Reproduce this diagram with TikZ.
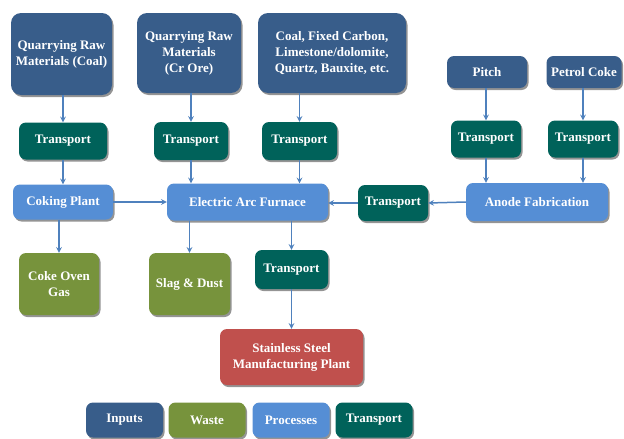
\documentclass[tikz,border=0pt]{standalone}
\usepackage{fontspec}
\setmainfont{Liberation Serif}
\usetikzlibrary{arrows, positioning, calc, shadows}
\definecolor{inputblue}{HTML}{385D8A}
\definecolor{wasteolive}{HTML}{77933C}
\definecolor{procblue}{HTML}{558ED5}
\definecolor{transteal}{HTML}{00625A}
\definecolor{plantred}{HTML}{C0504D}
\definecolor{arrowblue}{HTML}{4F81BD}
\tikzstyle{box} = [rectangle, rounded corners=7pt, align=center, text=white, font=\bfseries\fontsize{13}{16}\selectfont, inner sep=1pt, drop shadow={shadow xshift=1.5pt, shadow yshift=-2pt, fill=black!70, opacity=0.6}]
\tikzstyle{input} = [box, fill=inputblue, rounded corners=10pt]
\tikzstyle{waste} = [box, fill=wasteolive]
\tikzstyle{process} = [box, fill=procblue]
\tikzstyle{transport} = [box, fill=transteal]
\tikzstyle{plant} = [box, fill=plantred]
\tikzstyle{legend} = [box, minimum width=77pt, minimum height=35pt]
\tikzstyle{arrow} = [line width=1.5pt, draw=arrowblue, ->, >=stealth]

\begin{document}
\begin{tikzpicture}[x=1pt, y=-1pt]
    \useasboundingbox (0,0) rectangle (624,439);

    % Inputs
    \node (coal) [input, minimum width=101pt, minimum height=82pt] at (61.5,54) {Quarrying Raw\\Materials (Coal)};
    \node (crore) [input, minimum width=104pt, minimum height=80pt] at (189,53) {Quarrying Raw\\Materials\\(Cr Ore)};
    \node (carbon) [input, minimum width=148pt, minimum height=80pt] at (332,53) {Coal, Fixed Carbon,\\Limestone/dolomite,\\Quartz, Bauxite, etc.};
    \node (pitch) [input, rounded corners=7pt, minimum width=80pt, minimum height=32pt] at (487,72) {Pitch};
    \node (petcoke) [input, rounded corners=7pt, minimum width=75pt, minimum height=32pt] at (584,72) {Petrol Coke};

    % Transport (first row)
    \node (tcoal) [transport, minimum width=88pt, minimum height=37pt] at (63,141) {Transport};
    \node (tcrore) [transport, minimum width=74pt, minimum height=38pt] at (191,141) {Transport};
    \node (tcarbon) [transport, minimum width=75pt, minimum height=38pt] at (299.5,141) {Transport};
    \node (tpitch) [transport, minimum width=70pt, minimum height=37pt] at (486,139) {Transport};
    \node (tpetcoke) [transport, minimum width=70pt, minimum height=37pt] at (583,139) {Transport};

    % Processes
    \node (coking) [process, minimum width=100pt, minimum height=35pt] at (63,202) {Coking Plant};
    \node (eaf) [process, minimum width=161pt, minimum height=37pt] at (247.5,202) {Electric Arc Furnace};
    \node (tanode) [transport, minimum width=70pt, minimum height=36pt] at (393,203) {Transport};
    \node (anode) [process, minimum width=142pt, minimum height=38pt] at (537,202) {Anode Fabrication};

    % Waste and products
    \node (cog) [waste, minimum width=80pt, minimum height=62pt] at (59,284) {Coke Oven\\Gas};
    \node (slag) [waste, minimum width=81pt, minimum height=62pt] at (189.5,284) {Slag \& Dust};
    \node (tsteel) [transport, minimum width=73pt, minimum height=39pt] at (291.5,269.5) {Transport};
    \node (steel) [plant, minimum width=143pt, minimum height=56pt] at (291.5,357) {Stainless Steel\\Manufacturing Plant};

    % Legend
    \node (leginput) [legend, fill=inputblue] at (124.5,420) {Inputs};
    \node (legwaste) [legend, fill=wasteolive] at (207,420) {Waste};
    \node (legproc) [legend, fill=procblue] at (291,420) {Processes};
    \node (legtrans) [legend, fill=transteal] at (374,420) {Transport};

    % Arrows
    \draw [arrow] (coal.south -| tcoal.north) -- (tcoal.north);
    \draw [arrow] (crore.south -| tcrore.north) -- (tcrore.north);
    \draw [arrow] (carbon.south -| tcarbon.north) -- (tcarbon.north);
    \draw [arrow] (pitch.south -| tpitch.north) -- (tpitch.north);
    \draw [arrow] (petcoke.south -| tpetcoke.north) -- (tpetcoke.north);
    \draw [arrow] (tcoal.south) -- (tcoal.south |- coking.north);
    \draw [arrow] (tcrore.south) -- (tcrore.south |- eaf.north);
    \draw [arrow] (tcarbon.south) -- (tcarbon.south |- eaf.north);
    \draw [arrow] (tpitch.south) -- (tpitch.south |- anode.north);
    \draw [arrow] (tpetcoke.south) -- (tpetcoke.south |- anode.north);
    \draw [arrow] (coking.east) -- (eaf.west);
    \draw [arrow] (anode.west) -- (tanode.east);
    \draw [arrow] (tanode.west) -- (tanode.west -| eaf.east);
    \draw [arrow] (cog.north |- coking.south) -- (cog.north);
    \draw [arrow] (slag.north |- eaf.south) -- (slag.north);
    \draw [arrow] (tsteel.north |- eaf.south) -- (tsteel.north);
    \draw [arrow] (tsteel.south) -- (steel.north);

\end{tikzpicture}
\end{document}
